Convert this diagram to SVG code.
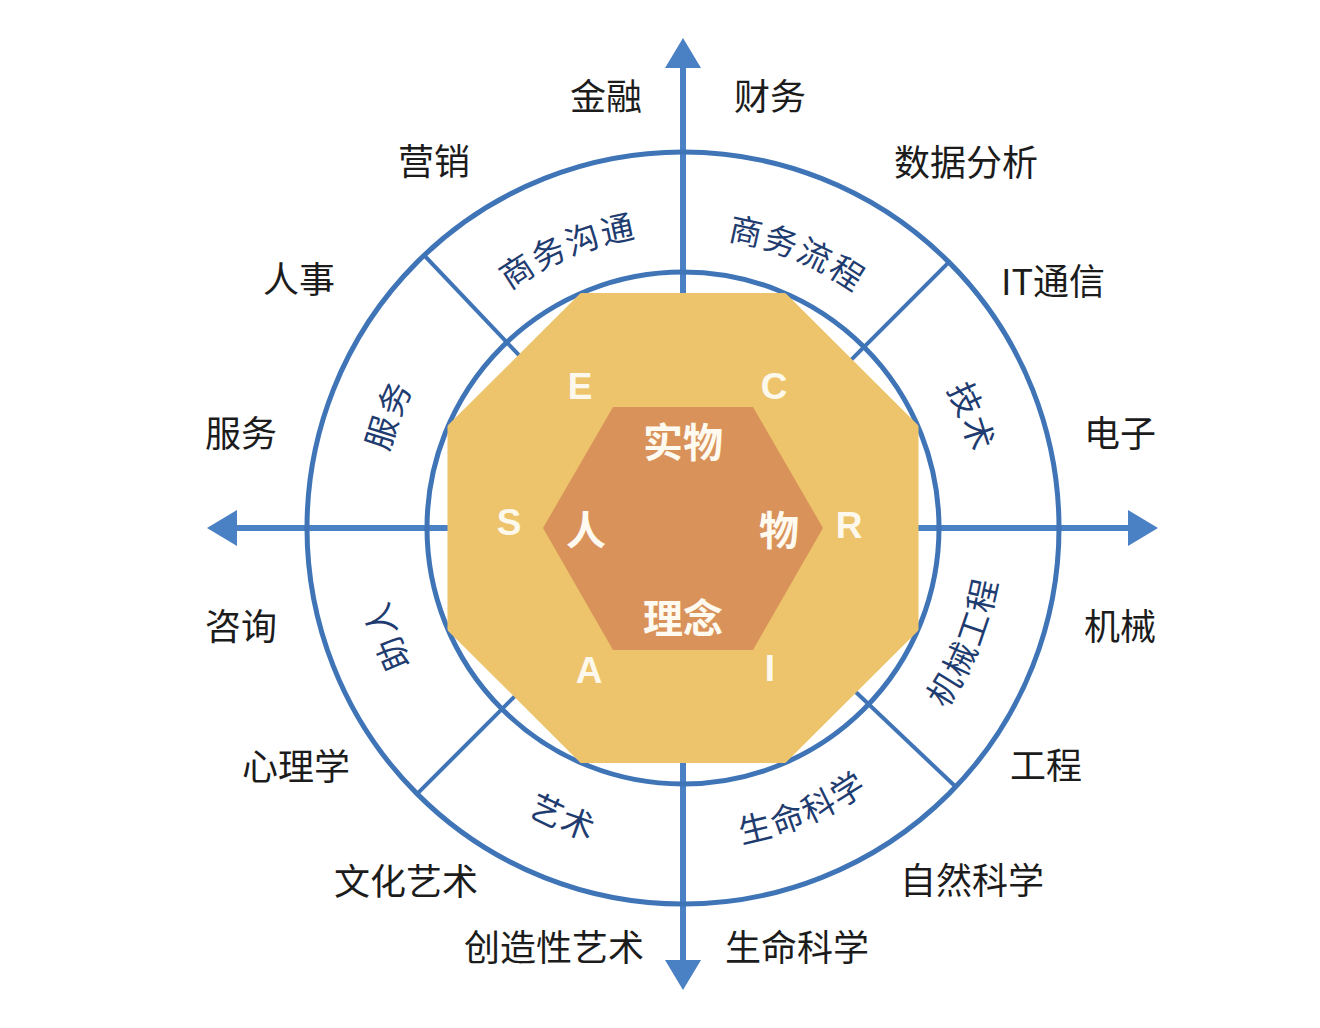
<svg xmlns="http://www.w3.org/2000/svg" width="1320" height="1028" viewBox="0 0 1320 1028">
<style>
.ring{fill:none;stroke:#3f74b7;stroke-width:5}
.div{stroke:#3f74b7;stroke-width:4;fill:none}
.axis{stroke:#4a80c4;stroke-width:6;fill:none}
.outer{font-family:"Noto Sans CJK SC","Noto Sans",sans-serif;font-size:36px;fill:#1c1c1c;text-anchor:middle}
.arc{font-family:"Noto Sans CJK SC","Noto Sans",sans-serif;font-size:33px;fill:#1f3c70;letter-spacing:2px;text-anchor:middle}
.core{font-family:"Noto Sans CJK SC","Noto Sans",sans-serif;font-size:40px;font-weight:bold;fill:#fffaf0;text-anchor:middle}
.lt{font-family:"Liberation Sans",Arial,sans-serif;font-size:37px;font-weight:bold;fill:#fdf8ec;text-anchor:middle}
</style>
<defs>
<marker id="ah" viewBox="0 0 30 36" refX="0" refY="18" markerWidth="30" markerHeight="36" markerUnits="userSpaceOnUse" orient="auto">
<path d="M0,0 L30,18 L0,36 Z" fill="#4a80c4"/>
</marker>
<path id="p1" d="M391.5,489.6 A294,294 0 0 1 862.0,294.8"/>
<path id="p2" d="M505.9,297.1 A291,291 0 0 1 971.5,490.0"/>
<path id="p3" d="M729.6,233.7 A298,298 0 0 1 914.6,715.5"/>
<path id="p4" d="M446.8,719.3 A304,304 0 0 1 635.4,227.7"/>
<path id="p5" d="M630.2,827.4 A304,304 0 0 1 450.1,332.6"/>
<path id="p6" d="M359.8,570.6 A326,326 0 0 0 881.5,786.6"/>
<path id="p7" d="M489.8,784.4 A321,321 0 0 0 1001.6,567.1"/>
<path id="p8" d="M727.4,843.9 A319,319 0 0 0 934.4,331.6"/>
</defs>
<rect width="1320" height="1028" fill="#ffffff"/>

<g id="connectors">
<line class="axis" x1="683" y1="528" x2="683" y2="68" marker-end="url(#ah)"/>
<line class="axis" x1="683" y1="528" x2="683" y2="960" marker-end="url(#ah)"/>
<line class="axis" x1="683" y1="528" x2="237" y2="528" marker-end="url(#ah)"/>
<line class="axis" x1="683" y1="528" x2="1128" y2="528" marker-end="url(#ah)"/>
</g>

<g id="ring">
<circle class="ring" cx="683" cy="528" r="376"/>
<circle class="ring" cx="683" cy="528" r="256"/>
<line class="div" x1="424.2" y1="255.3" x2="545.3" y2="382.9"/>
<line class="div" x1="948.9" y1="262.1" x2="824.4" y2="386.6"/>
<line class="div" x1="417.1" y1="793.9" x2="541.6" y2="669.4"/>
<line class="div" x1="955.7" y1="786.8" x2="828.1" y2="665.7"/>
</g>

<g id="octagon">
<polygon points="582,296 784,296 915.5,427 915.5,629 784,760 582,760 450.5,629 450.5,427" fill="#edc46b" stroke="#edc46b" stroke-width="6" stroke-linejoin="round"/>
</g>

<g id="hexagon">
<polygon points="613,407 753,407 823,528 753,650 613,650 543,528" fill="#d9935a"/>
</g>

<g id="letters">
<text class="lt" x="580" y="399">E</text>
<text class="lt" x="774" y="399">C</text>
<text class="lt" x="509" y="535">S</text>
<text class="lt" x="849" y="538">R</text>
<text class="lt" x="589" y="683">A</text>
<text class="lt" x="770" y="681">I</text>
</g>

<g id="core-labels">
<text class="core" x="683" y="457">实物</text>
<text class="core" x="586" y="545">人</text>
<text class="core" x="779" y="545">物</text>
<text class="core" x="683" y="633">理念</text>
</g>

<g id="ring-labels">
<text class="arc"><textPath href="#p1" startOffset="50%">商务沟通</textPath></text>
<text class="arc"><textPath href="#p2" startOffset="50%">商务流程</textPath></text>
<text class="arc"><textPath href="#p3" startOffset="50%">技术</textPath></text>
<text class="arc"><textPath href="#p4" startOffset="50%">服务</textPath></text>
<text class="arc"><textPath href="#p5" startOffset="50%">助人</textPath></text>
<text class="arc"><textPath href="#p6" startOffset="50%">艺术</textPath></text>
<text class="arc"><textPath href="#p7" startOffset="50%">生命科学</textPath></text>
<text class="arc"><textPath href="#p8" startOffset="50%">机械工程</textPath></text>
</g>

<g id="outer-labels">
<text class="outer" x="606" y="110">金融</text>
<text class="outer" x="770" y="110">财务</text>
<text class="outer" x="434" y="175">营销</text>
<text class="outer" x="966" y="176">数据分析</text>
<text class="outer" x="299" y="293">人事</text>
<text class="outer" x="1053" y="295">IT通信</text>
<text class="outer" x="241" y="447">服务</text>
<text class="outer" x="1120" y="447">电子</text>
<text class="outer" x="241" y="640">咨询</text>
<text class="outer" x="1120" y="640">机械</text>
<text class="outer" x="296" y="780">心理学</text>
<text class="outer" x="1046" y="779">工程</text>
<text class="outer" x="406" y="895">文化艺术</text>
<text class="outer" x="972" y="894">自然科学</text>
<text class="outer" x="554" y="961">创造性艺术</text>
<text class="outer" x="797" y="961">生命科学</text>
</g>
</svg>
